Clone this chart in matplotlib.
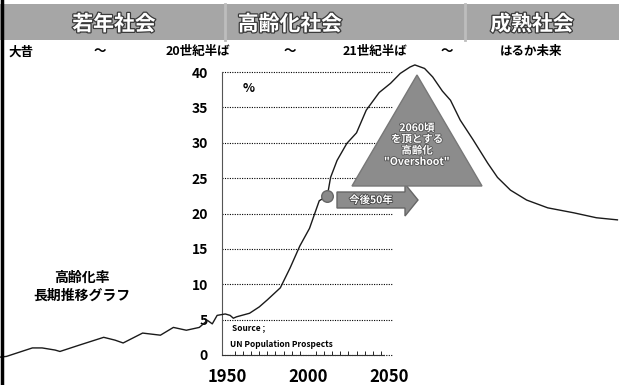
import numpy as np
import matplotlib.pyplot as plt
from matplotlib.patches import Polygon, Rectangle, FancyArrow
import matplotlib.patheffects as pe

plt.rcParams['font.family'] = ['Noto Sans CJK JP', 'DejaVu Sans']

# ageing rate (%)
years = [1810, 1814, 1822, 1830, 1836, 1844, 1847, 1859, 1874, 1881, 1886,
         1898, 1909, 1917, 1925, 1933, 1938, 1941, 1944, 1949, 1952, 1954,
         1956, 1964, 1970, 1975, 1983, 1989, 1995, 2001, 2007, 2012, 2014,
         2018, 2024, 2030, 2036, 2044, 2051, 2057, 2063, 2066, 2072, 2077,
         2083, 2088, 2094, 2102, 2111, 2117, 2125, 2135, 2148, 2164, 2178,
         2191]
rate = [-0.3, -0.2, 0.4, 1.0, 1.0, 0.7, 0.5, 1.4, 2.5, 2.1, 1.7,
        3.1, 2.8, 3.9, 3.5, 3.9, 4.9, 4.4, 5.6, 5.8, 5.6, 5.2,
        5.4, 5.9, 6.8, 7.8, 9.5, 12.3, 15.4, 17.9, 21.8, 22.5, 25.1,
        27.5, 29.9, 31.4, 34.6, 37.1, 38.4, 39.8, 40.7, 41.0, 40.5, 39.3,
        37.3, 36.0, 33.2, 30.4, 27.1, 25.1, 23.3, 21.9, 20.8, 20.1, 19.4,
        19.1]
marker_year = 2011.5
marker_rate = 22.5

yticks = [0, 5, 10, 15, 20, 25, 30, 35, 40]
xlabels = [1950, 2000, 2050]

eras = ['若年社会', '高齢化社会', '成熟社会']
era_x = [114, 290, 532]
periods = ['大昔', '～', '20世紀半ば', '～', '21世紀半ば', '～', 'はるか未来']
period_x = [8, 100, 198, 290, 375, 447, 531]

W, H = 619, 385
fig = plt.figure(figsize=(W / 100, H / 100), dpi=100)


def fx(x):
    return x / W


def fy(y):
    return 1 - y / H


# header band
fig.patches.append(Rectangle((0, fy(40)), 1, 36 / H, transform=fig.transFigure,
                             facecolor='#a6a6a6', edgecolor='none'))
for sx in [225, 465]:
    fig.add_artist(plt.Line2D([fx(sx), fx(sx)], [fy(40), fy(4)], transform=fig.transFigure,
                              color='#bdbdbd', lw=2))
for t, x in zip(eras, era_x):
    fig.text(fx(x), fy(24), t, ha='center', va='center', fontsize=15,
             fontweight='bold', color='white',
             path_effects=[pe.withStroke(linewidth=1.8, foreground='#3a3a3a')])
for t, x in zip(periods, period_x):
    fig.text(fx(x), fy(52), t, ha='left' if x == period_x[0] else 'center',
             va='center', fontsize=9, fontweight='bold', color='black')

# left border
fig.add_artist(plt.Line2D([fx(2), fx(2)], [0, 1], transform=fig.transFigure,
                          color='black', lw=2.5))

# chart axes
ax = fig.add_axes([fx(222), fy(355), (392 - 222) / W, (355 - 72) / H])
ax.set_xlim(1947.0, 2051.9)
ax.set_ylim(0, 40)
ax.patch.set_alpha(0)
for s in ['top', 'right']:
    ax.spines[s].set_visible(False)
ax.spines['left'].set_linestyle((0, (1, 1)))
ax.spines['left'].set_color('#555555')
ax.spines['bottom'].set_color('#333333')
ax.spines['bottom'].set_bounds(1947.0, 2047)
ax.set_yticks(yticks)
ax.set_yticklabels([str(v) for v in yticks], fontsize=10, fontweight='bold')
ax.set_xticks(xlabels)
ax.set_xticklabels([str(v) for v in xlabels], fontsize=12, fontweight='bold')
ax.set_xticks(np.arange(1950, 2050, 5), minor=True)
ax.tick_params(axis='y', length=0, pad=10)
ax.tick_params(axis='x', which='major', length=0, pad=9)
ax.tick_params(axis='x', which='minor', length=3, width=0.6, direction='in')
ax.yaxis.grid(True, linestyle=(0, (1, 1.2)), color='black', lw=0.8)
for gl in ax.get_ygridlines():
    gl.set_clip_on(False)

ax.plot(years, rate, color='#1a1a1a', lw=1.0, clip_on=False, zorder=5)
ax.scatter([marker_year], [marker_rate], s=70, color='#8a8a8a', edgecolor='#666666',
           zorder=6, clip_on=False)

ax.text(0.12, 0.965, '%', transform=ax.transAxes, fontsize=9, fontweight='bold',
        va='top')
ax.text(1953, 3.5, 'Source ;', fontsize=6, fontweight='bold')
ax.text(1952, 1.2, 'UN Population Prospects', fontsize=6, fontweight='bold')

# overshoot triangle
tri = Polygon([(fx(417), fy(75)), (fx(352), fy(186)), (fx(482), fy(186))],
              closed=True, transform=fig.transFigure, facecolor='#8c8c8c',
              edgecolor='#777777', zorder=3)
fig.patches.append(tri)
fig.text(fx(417), fy(145), '2060頃\nを頂とする\n高齢化\n"Overshoot"', ha='center',
         va='center', fontsize=7.5, color='white', linespacing=1.15, fontweight='bold',
         path_effects=[pe.withStroke(linewidth=1.2, foreground='#555555')])

# arrow
arr = FancyArrow(fx(337), fy(200), fx(418) - fx(337), 0, width=16 / H,
                 head_width=32 / H, head_length=fx(13), length_includes_head=True,
                 transform=fig.transFigure, facecolor='#8c8c8c', edgecolor='#666666')
fig.patches.append(arr)
fig.text(fx(371), fy(200), '今後50年', ha='center', va='center', fontsize=7.5,
         color='white', fontweight='bold',
         path_effects=[pe.withStroke(linewidth=1.2, foreground='#444444')])

fig.text(fx(82), fy(287), '高齢化率\n長期推移グラフ', ha='center', va='center',
         fontsize=10, fontweight='bold', linespacing=1.3)

fig.savefig('out.png', dpi=100)
